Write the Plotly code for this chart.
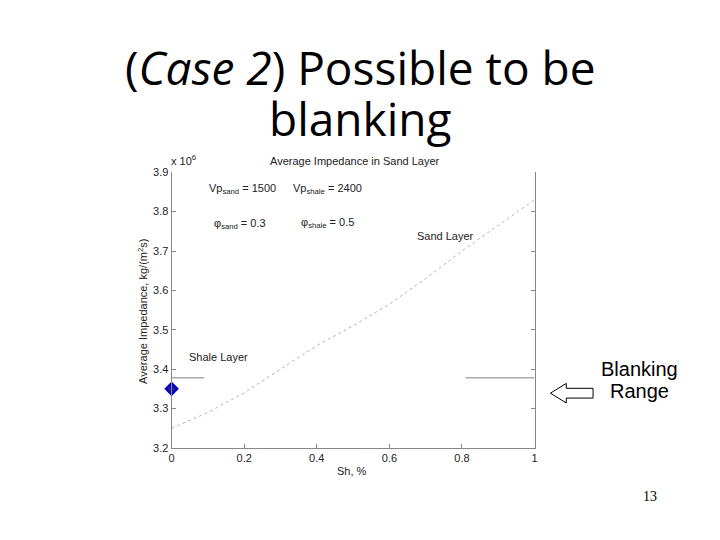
import plotly.graph_objects as go

# Data
sh = [0.0, 0.1, 0.2, 0.3, 0.4, 0.5, 0.6, 0.7, 0.8, 0.9, 1.0]
sand_impedance = [3.25, 3.29, 3.34, 3.40, 3.46, 3.51, 3.565, 3.63, 3.70, 3.765, 3.83]
shale_left_x = [0.0, 0.09]
shale_right_x = [0.81, 1.0]
shale_impedance = 3.378
point_x = [0.0]
point_y = [3.35]
x_ticks = [0, 0.2, 0.4, 0.6, 0.8, 1]
x_tick_labels = ["0", "0.2", "0.4", "0.6", "0.8", "1"]
y_ticks = [3.2, 3.3, 3.4, 3.5, 3.6, 3.7, 3.8, 3.9]
y_tick_labels = ["3.2", "3.3", "3.4", "3.5", "3.6", "3.7", "3.8", "3.9"]

W, H = 720, 540
def px(x):
    return x / W
def py(y):
    return 1 - y / H

fig = go.Figure()
fig.add_trace(go.Scatter(x=sh, y=sand_impedance, mode="lines",
                         line=dict(color="#b4b4b4", width=1, dash="dot"), showlegend=False))
fig.add_trace(go.Scatter(x=shale_left_x, y=[shale_impedance]*2, mode="lines",
                         line=dict(color="#808080", width=1), showlegend=False))
fig.add_trace(go.Scatter(x=shale_right_x, y=[shale_impedance]*2, mode="lines",
                         line=dict(color="#808080", width=1), showlegend=False))
fig.add_trace(go.Scatter(x=point_x, y=point_y, mode="markers",
                         marker=dict(symbol="diamond", size=9, color="#1a1aa0",
                                     line=dict(color="#0000cc", width=2)),
                         cliponaxis=False, showlegend=False))

small = dict(family="Arial, Liberation Sans, sans-serif", size=11, color="#222")
annots = [
    dict(x=0.098, y=3.857, text="Vp<sub>sand</sub> = 1500"),
    dict(x=0.33, y=3.857, text="Vp<sub>shale</sub> = 2400"),
    dict(x=0.11, y=3.768, text="φ<sub>sand</sub> = 0.3"),
    dict(x=0.35, y=3.772, text="φ<sub>shale</sub> = 0.5"),
    dict(x=0.67, y=3.738, text="Sand Layer"),
    dict(x=0.043, y=3.432, text="Shale Layer"),
]
ann_list = []
for a in annots:
    ann_list.append(dict(x=a["x"], y=a["y"], xref="x", yref="y", text=a["text"],
                         showarrow=False, xanchor="left", yanchor="middle", font=small))

title_font = dict(family="Open Sans, Noto Sans, sans-serif", size=46, color="black")
ann_list += [
    dict(x=px(167), y=py(158), xref="paper", yref="paper", text="x 10<sup>6</sup>",
         showarrow=False, xanchor="left", yanchor="middle", font=small),
    dict(x=px(355), y=py(159), xref="paper", yref="paper", text="Average Impedance in Sand Layer",
         showarrow=False, xanchor="center", yanchor="middle", font=small),
    dict(x=px(352), y=py(476), xref="paper", yref="paper", text="Sh, %",
         showarrow=False, xanchor="center", yanchor="middle", font=small),
    dict(x=px(141), y=py(312), xref="paper", yref="paper",
         text="Average Impedance, kg/(m<sup>2</sup>s)", textangle=-90,
         showarrow=False, xanchor="center", yanchor="middle", font=small),
    dict(x=px(361), y=py(62), xref="paper", yref="paper",
         text="(<i>Case 2</i>) Possible to be", showarrow=False,
         xanchor="center", yanchor="middle", font=title_font),
    dict(x=px(361), y=py(115), xref="paper", yref="paper",
         text="blanking", showarrow=False,
         xanchor="center", yanchor="middle", font=title_font),
    dict(x=px(642), y=py(371), xref="paper", yref="paper", text="Blanking",
         showarrow=False, xanchor="center", yanchor="middle",
         font=dict(family="Arial, Liberation Sans, sans-serif", size=20, color="black")),
    dict(x=px(642), y=py(394), xref="paper", yref="paper", text="Range",
         showarrow=False, xanchor="center", yanchor="middle",
         font=dict(family="Arial, Liberation Sans, sans-serif", size=20, color="black")),
    dict(x=px(652), y=py(502), xref="paper", yref="paper", text="13",
         showarrow=False, xanchor="center", yanchor="middle",
         font=dict(family="Liberation Serif, DejaVu Serif, serif", size=14, color="black")),
]

# Left-pointing outline arrow
pts = [(552, 396), (568, 386), (568, 391), (595, 391), (595, 401), (568, 401), (568, 406)]
path = "M " + " L ".join(f"{px(x):.5f},{py(y):.5f}" for x, y in pts) + " Z"
shapes = [dict(type="path", xref="paper", yref="paper", path=path,
               line=dict(color="black", width=1), fillcolor="white")]

fig.update_layout(
    width=W, height=H,
    margin=dict(l=0, r=0, t=0, b=0),
    paper_bgcolor="white", plot_bgcolor="white",
    annotations=ann_list, shapes=shapes,
    xaxis=dict(domain=[px(170), px(536)], range=[0, 1], tickvals=x_ticks, ticktext=x_tick_labels,
               ticks="inside", ticklen=4, tickcolor="#888", showline=True, linecolor="#888",
               linewidth=1, mirror=False, showgrid=False, zeroline=False,
               tickfont=small),
    yaxis=dict(domain=[py(452), py(170)], range=[3.2, 3.9], tickvals=y_ticks, ticktext=y_tick_labels,
               ticks="inside", ticklen=4, tickcolor="#888", showline=True, linecolor="#888",
               linewidth=1, mirror="ticks", showgrid=False, zeroline=False,
               tickfont=small),
)

fig.write_html("out.html", config={"displayModeBar": False},
               post_script="document.body.style.margin='0';")
